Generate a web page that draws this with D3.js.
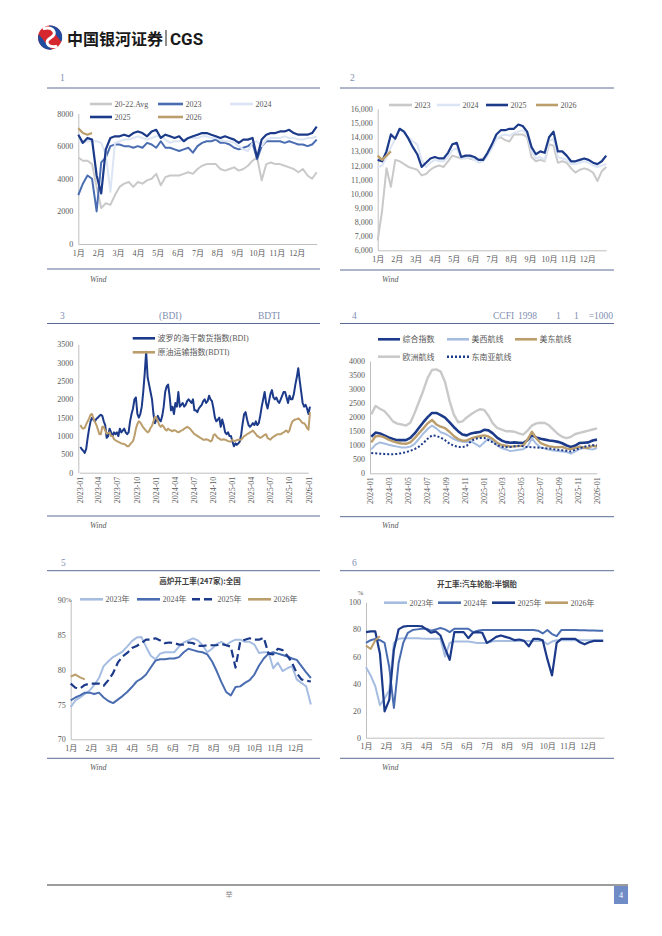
<!DOCTYPE html>
<html>
<head>
<meta charset="utf-8">
<title>CGS</title>
<script src="https://cdn.jsdelivr.net/npm/d3@7/dist/d3.min.js"></script>
<style>
  body { margin: 0; background: #fff; }
</style>
</head>
<body>
<script>
// ---------------- data ----------------
var monthLabels = ["1月","2月","3月","4月","5月","6月","7月","8月","9月","10月","11月","12月"];

// chart 1 (weekly, one year)
var c1YTicks = [0, 2000, 4000, 6000, 8000];
var c1Avg = [5300,5100,5100,4900,3500,2200,2500,2400,3000,3500,3700,3800,3500,3800,3700,3900,4000,4300,3600,4100,4200,4200,4200,4300,4400,4300,4600,4800,4900,4900,4900,4600,4500,4600,4700,4500,4600,4800,5100,5300,3900,4900,5000,4900,4900,4800,4700,4600,4400,4600,4200,4000,4400];
var c1Y2023 = [3000,3700,4200,4000,2000,5000,5300,6000,6100,6100,6000,6000,5900,6000,5900,6200,6100,5900,6300,5900,5900,5800,5700,5800,5900,5600,6000,6200,6300,6300,6400,6200,6200,6100,5900,5800,5900,6000,6200,5200,6000,6300,6300,6300,6300,6200,6300,6200,6100,6100,6000,6100,6400];
var c1Y2024 = [6300,6200,6300,6300,6300,6200,5500,3200,6200,6300,6400,6400,6500,6600,6500,6400,6500,6600,6600,6400,6200,6300,6300,6400,6500,6500,6500,6600,6600,6500,6500,6400,6300,6300,6200,6000,5800,5700,6200,6300,6000,6400,6500,6500,6500,6600,6500,6500,6400,6400,6500,6500,6600];
var c1Y2025 = [6700,6200,6500,6400,4200,3100,5800,6500,6600,6600,6700,6600,6800,6900,6800,6600,6900,7000,6500,6700,6600,6500,6600,6300,6500,6600,6700,6800,6800,6700,6600,6500,6600,6500,6400,6200,6400,6400,6500,5300,6400,6700,6800,6800,6900,6900,7000,6800,6700,6700,6700,6800,7200];
var c1Y2026 = [7100,6800,6700,6800];

// chart 2
var c2YTicks = [6000,7000,8000,9000,10000,11000,12000,13000,14000,15000,16000];
var c2Y2023 = [6700,8800,11800,10500,12400,12300,12100,11900,11800,11700,11300,11400,11700,11900,12000,11900,12300,12700,12600,12500,12600,12500,12400,12400,12500,12800,13400,13900,14000,13800,13700,14200,14200,14200,14000,12600,12300,12400,12300,13500,13400,12200,12300,12200,11800,11500,11700,11800,11700,11500,10900,11600,11900];
var c2Y2024 = [11900,12000,12600,13300,13900,14600,14300,14000,13700,13500,12400,11900,12200,12400,12300,12300,12600,13100,13200,12500,12500,12600,12400,12200,12300,12700,13200,13900,14100,14200,14100,14300,14400,14500,14200,13000,12500,12600,12400,13700,13900,12600,12500,12400,12100,12100,12200,12300,12200,12000,11900,12000,12100];
var c2Y2025 = [12400,12300,13000,14200,13900,14600,14400,13900,13300,12800,11900,12200,12500,12600,12500,12500,12900,13500,13600,12600,12700,12700,12600,12400,12400,12900,13500,14200,14500,14500,14600,14600,14900,14800,14400,13300,12800,13000,12900,14000,14400,13000,13000,12700,12300,12300,12400,12500,12400,12200,12100,12300,12700];
var c2Y2026 = [12700,12400,12700,13000];

// chart 3 (weekly from 2023-01-06)
var c3Start = "2023-01-06";
var c3XTicks = ["2023-01","2023-04","2023-07","2023-10","2024-01","2024-04","2024-07","2024-10","2025-01","2025-04","2025-07","2025-10","2026-01"];
var c3YTicks = [0,500,1000,1500,2000,2500,3000,3500];
var c3BDI = [700,640,600,540,650,950,1200,1400,1500,1450,1400,1470,1500,1550,1580,1550,1400,1300,950,1000,1200,1100,1000,1100,1050,1100,1000,1200,1100,1150,1200,1100,1050,1100,1400,1600,1750,2000,2050,1600,1500,1600,1800,2200,2700,3300,2600,2400,2200,2000,1600,1350,1450,1550,1450,1400,1550,1800,2200,2350,2400,2100,1700,1800,1600,1900,1800,2200,1800,1850,1900,1800,1850,1950,2000,1950,1900,2000,1700,1700,1650,1750,1800,1850,1950,2000,1900,1950,2100,2000,1950,1750,1500,1400,1450,1500,1250,1450,1300,1100,1050,1100,1000,1000,850,720,800,760,800,850,1050,1350,1600,1650,1450,1300,1250,1300,1350,1300,1400,1300,1350,1550,1800,2000,2200,1900,1750,1950,2150,2250,2050,2000,2050,1950,1900,2000,2100,2200,2200,2050,1900,2100,2000,2000,2150,2400,2600,2850,2500,2200,1900,1800,1850,1750,1600,1800];
var c3BDTI = [1300,1230,1200,1220,1320,1400,1480,1580,1600,1480,1380,1300,1180,1050,1050,1250,1250,1150,1070,1080,1100,1000,1000,920,880,860,840,820,800,790,780,760,720,720,770,820,860,1000,1200,1330,1400,1370,1300,1230,1190,1140,1100,1130,1220,1280,1400,1520,1500,1400,1300,1250,1300,1250,1180,1150,1200,1170,1150,1130,1160,1150,1120,1100,1120,1150,1160,1200,1220,1250,1230,1200,1150,1100,1050,1030,1000,980,950,930,900,900,910,900,880,850,880,1020,1050,1000,950,930,900,900,910,900,880,860,850,850,900,860,870,890,900,900,900,950,1000,1020,1050,1070,1100,1120,1150,1100,1050,1000,980,950,970,1000,1030,1050,950,920,900,950,980,1000,1030,1050,1050,1050,1080,1100,1130,1150,1100,1150,1300,1400,1430,1450,1460,1480,1450,1400,1350,1350,1300,1220,1170,1650];

// chart 4 (every two weeks from 2024-01-05)
var c4Start = "2024-01-05";
var c4XTicks = ["2024-01","2024-03","2024-05","2024-07","2024-09","2024-11","2025-01","2025-03","2025-05","2025-07","2025-09","2025-11","2026-01"];
var c4YTicks = [0,500,1000,1500,2000,2500,3000,3500,4000];
var c4Comp = [1300,1450,1420,1350,1280,1220,1180,1180,1180,1260,1420,1620,1820,2000,2150,2150,2070,1980,1820,1650,1500,1380,1350,1420,1450,1470,1550,1530,1420,1270,1170,1110,1090,1100,1090,1080,1180,1350,1280,1230,1200,1170,1150,1120,1070,990,940,990,1080,1090,1100,1170,1200];
var c4USW = [850,1020,1100,1060,1020,980,950,920,920,950,1050,1230,1420,1580,1700,1600,1460,1410,1320,1220,1160,1120,1110,1140,1050,950,1100,1240,1150,990,900,850,790,810,840,860,950,1250,1050,920,880,840,810,790,780,760,700,780,860,900,870,850,900];
var c4USE = [1100,1320,1330,1280,1200,1140,1090,1060,1050,1100,1250,1430,1600,1780,1900,1740,1660,1610,1480,1330,1220,1160,1170,1240,1290,1320,1350,1310,1220,1090,1010,980,950,960,970,990,1200,1480,1250,1080,1010,960,940,930,940,880,860,900,950,920,900,980,950];
var c4EU = [2100,2400,2300,2220,2050,1850,1770,1740,1700,1800,2150,2550,2950,3400,3680,3700,3620,3250,2600,2100,1820,1850,1990,2100,2200,2280,2260,2050,1780,1620,1560,1500,1500,1480,1420,1380,1520,1700,1780,1800,1790,1700,1550,1400,1300,1250,1300,1400,1440,1480,1520,1560,1600];
var c4SEA = [720,710,700,690,680,680,690,720,750,800,860,950,1080,1230,1350,1330,1270,1180,1060,980,940,930,980,1150,1230,1260,1260,1180,1100,1000,950,930,940,960,980,960,940,930,920,910,890,880,860,840,820,800,780,840,890,940,980,1000,1000];

// chart 5
var c5YTicks = [70, 75, 80, 85, 90];
var c5Y2023 = [74.6,75.6,76,76.5,77,77.8,78.8,80.5,81.2,81.8,82.2,82.6,83.3,84.1,84.6,84.7,83.3,82,81.5,82.3,82.5,82.5,82.5,83.3,83.9,84.2,84.5,84.2,83.5,82.5,83,83.7,84,83.5,84,84.3,84.3,84,84,83.6,82.4,82.5,82.5,80.2,81,79.8,80.2,80.5,78.6,78.1,77.6,75];
var c5Y2024 = [75.6,76,76.3,76.7,76.7,76.5,76.7,76,75.5,75.2,75.7,76.2,76.8,77.5,78.3,78.7,79.3,80.3,81.3,81.5,81.5,81.6,81.6,81.8,82.5,83,82.8,82.6,82.5,82.2,81.2,79.8,78.2,76.8,76.3,77.5,77.6,78.1,78.5,79.3,80.6,81.6,82.3,82.5,82.3,82.1,81.9,81.6,81.4,80.5,79.6,78.8];
var c5Y2025 = [78,77.4,77.3,77.8,78,78,78,77.7,78.5,79.5,81,81.9,82.4,83.1,83.4,83.8,84.3,84.3,84.5,84.2,83.8,83.9,83.8,83.6,83.6,83.9,83.8,83.4,83.4,83.5,83.5,83.5,83.7,83.5,83.3,80.3,84,84.3,84.5,84.3,84.3,84.6,82.3,82.2,83,82.8,82,81,79.5,78.6,78.4,78.3];
var c5Y2026 = [79,79.3,78.9,78.6];

// chart 6
var c6YTicks = [0, 20, 40, 60, 80, 100];
var c6Y2023 = [52,46,38,24,29,35,70,73,73.5,73.5,73.5,73.5,73.2,73,73,73,73,60,70,71,71,71,71,70.5,70,70,70,71,71.5,71.5,71.5,71.5,71.5,71.5,71.5,71.5,71.5,71.5,71.5,69,71,72,72,72,72,72,72,72,72,72,72,72];
var c6Y2024 = [70,72,73,72,70,52,22,55,70,77.5,79.5,80,80.5,80.5,79,80,81,80,78,80.5,80.5,80.5,80.5,78,79,79.5,79.5,79.5,79.5,79.5,79.5,79.5,79.5,79.5,79.5,79.5,79.5,79,77,79.5,76.5,75,79.5,79.5,79.5,79.5,79.3,79.3,79.2,79.2,79,79];
var c6Y2025 = [78,78.5,78.5,62,19.5,28,65,80,82,82.5,82.5,82.5,82.3,80,77.5,78.5,75.5,66,57.5,78,78,78,73.5,77.5,78,77.5,70,72,74.5,75.5,74.5,73.5,72,72.5,71.5,67.5,73,73,72,58,46,70,73,73,73,73,70.5,69,70.5,71.5,71.5,71.5];
var c6Y2026 = [68,65.5,72,75];

// ---------------- style ----------------
var NAVY = "#1c3a8a", MID = "#4a6db1", LIGHT = "#a6bde2", PALE = "#dce5f4", GRAY = "#c9c9c9", TAN = "#bb9e6c";
var INK = "#595959", RULE = "#5b6c95", AXIS = "#bfbfbf", TITLE = "#7f8fb2";
var SERIF = "'Liberation Serif','Noto Sans CJK SC',serif";
var CJK = "'Noto Sans CJK SC','Liberation Serif',sans-serif";

var svg = d3.select("body").append("svg").attr("width", 662).attr("height", 936);

function addText(x, y, s, opt) {
    opt = opt || {};
    return svg.append("text")
        .attr("x", x).attr("y", y)
        .attr("fill", opt.fill || INK)
        .attr("text-anchor", opt.anchor || "start")
        .attr("dy", opt.dy || null)
        .style("font-size", (opt.size || 8) + "px")
        .style("font-family", opt.font || SERIF)
        .style("font-weight", opt.weight || null)
        .style("font-style", opt.italic ? "italic" : null)
        .text(s);
}

function rule(x1, x2, y, color) {
    svg.append("line")
        .attr("x1", x1).attr("x2", x2).attr("y1", y).attr("y2", y)
        .attr("stroke", color || RULE).attr("stroke-width", 1);
}

function legend(x1, x2, y, color, label, dash) {
    svg.append("line")
        .attr("x1", x1).attr("x2", x2).attr("y1", y).attr("y2", y)
        .attr("stroke", color).attr("stroke-width", 2.6)
        .attr("stroke-dasharray", dash || null);
    addText(x2 + 2.5, y, label, {dy: "0.35em"});
}

function weekly(vals) {
    return vals.map(function(v, i) { return {x: i * 12 / 52, v: v}; });
}

function dated(vals, start, stepDays) {
    var t0 = d3.timeParse("%Y-%m-%d")(start);
    return vals.map(function(v, i) { return {x: d3.timeDay.offset(t0, i * stepDays), v: v}; });
}

function drawSeries(x, y, pts, color, width, dash) {
    var line = d3.line()
        .x(function(d) { return x(d.x); })
        .y(function(d) { return y(d.v); });
    svg.append("path")
        .datum(pts)
        .attr("d", line)
        .attr("fill", "none")
        .attr("stroke", color)
        .attr("stroke-width", width || 2)
        .attr("stroke-linejoin", "round")
        .attr("stroke-dasharray", dash || null);
}

function styleAxis(g) {
    g.select(".domain").attr("stroke", AXIS);
    g.selectAll("text").attr("fill", INK)
        .style("font-size", "8px").style("font-family", SERIF);
}

function yAxis(x0, y, ticks, fmt) {
    var g = svg.append("g")
        .attr("transform", "translate(" + x0 + ",0)")
        .call(d3.axisLeft(y).tickValues(ticks).tickFormat(fmt).tickSize(0).tickPadding(5));
    styleAxis(g);
}

function monthAxis(y0, x) {
    var g = svg.append("g")
        .attr("transform", "translate(0," + y0 + ")")
        .call(d3.axisBottom(x).tickValues(d3.range(12))
            .tickFormat(function(m) { return monthLabels[m]; })
            .tickSize(0).tickPadding(6));
    styleAxis(g);
}

function dateAxis(y0, x, ticks) {
    var parse = d3.timeParse("%Y-%m");
    var g = svg.append("g")
        .attr("transform", "translate(0," + y0 + ")")
        .call(d3.axisBottom(x).tickValues(ticks.map(parse))
            .tickFormat(d3.timeFormat("%Y-%m")).tickSize(0));
    styleAxis(g);
    g.selectAll(".tick text")
        .attr("transform", "rotate(-90)")
        .attr("text-anchor", "end")
        .attr("x", -4).attr("y", 0).attr("dy", "0.35em");
}

// ---------------- header ----------------
var logo = svg.append("g").attr("transform", "translate(50,37.5)");
logo.append("circle").attr("r", 12).attr("fill", "#d6262e");
logo.append("path")
    .attr("d", "M-1,-12 A12,12 0 0,1 11.5,4 C7,0 5,-5 -1,-12 Z")
    .attr("fill", "#1f4c9e");
logo.append("path")
    .attr("d", "M2,12 A12,12 0 0,1 -11.5,-3 C-7,1 -4,7 2,12 Z")
    .attr("fill", "#1f4c9e");
logo.append("path")
    .attr("d", "M-6,-9 C3,-11 8,-4 1,0 C-6,4 -3,10 6,9")
    .attr("fill", "none").attr("stroke", "#fff").attr("stroke-width", 3).attr("stroke-linecap", "round");

addText(67, 45, "中国银河证券", {size: 16, weight: "bold", fill: "#1a1a1a", font: CJK});
svg.append("line").attr("x1", 166).attr("x2", 166).attr("y1", 30).attr("y2", 46)
    .attr("stroke", "#444").attr("stroke-width", 1.2);
addText(170, 45, "CGS", {size: 17, weight: "bold", fill: "#1a1a1a", font: "Roboto, 'Liberation Sans', sans-serif"});

// ---------------- panel 1 ----------------
addText(60, 81, "1", {size: 9.5, fill: TITLE});
rule(47, 320, 88);
var x1 = d3.scaleLinear().domain([0, 12]).range([78.3, 316.7]);
var y1 = d3.scaleLinear().domain([0, 8000]).range([244, 113.5]);
yAxis(78.3, y1, c1YTicks, d3.format("d"));
monthAxis(244, x1);
drawSeries(x1, y1, weekly(c1Avg), GRAY, 2);
drawSeries(x1, y1, weekly(c1Y2023), MID, 2);
drawSeries(x1, y1, weekly(c1Y2024), PALE, 2);
drawSeries(x1, y1, weekly(c1Y2025), NAVY, 2.2);
drawSeries(x1, y1, weekly(c1Y2026), TAN, 2.2);
legend(90, 112, 104, GRAY, "20-22.Avg");
legend(158, 183, 104, MID, "2023");
legend(230, 253, 104, PALE, "2024");
legend(90, 112, 117, NAVY, "2025");
legend(158, 183, 117, TAN, "2026");
rule(47, 320, 269);
addText(90, 282, "Wind", {italic: true});

// ---------------- panel 2 ----------------
addText(350, 81, "2", {size: 9.5, fill: TITLE});
rule(340, 614, 88);
var x2 = d3.scaleLinear().domain([0, 12]).range([377.7, 606.2]);
var y2 = d3.scaleLinear().domain([6000, 16000]).range([250.3, 109]);
yAxis(377.7, y2, c2YTicks, d3.format(","));
monthAxis(250.3, x2);
drawSeries(x2, y2, weekly(c2Y2023), GRAY, 2);
drawSeries(x2, y2, weekly(c2Y2024), PALE, 2);
drawSeries(x2, y2, weekly(c2Y2025), NAVY, 2.2);
drawSeries(x2, y2, weekly(c2Y2026), TAN, 2.2);
legend(389, 412, 105, GRAY, "2023");
legend(437, 460, 105, PALE, "2024");
legend(486, 508, 105, NAVY, "2025");
legend(536, 558, 105, TAN, "2026");
rule(340, 614, 270);
addText(382, 282, "Wind", {italic: true});

// ---------------- panel 3 ----------------
addText(60, 319, "3", {size: 9.5, fill: TITLE});
addText(159, 319, "(BDI)", {size: 9.5, fill: TITLE});
addText(258, 319, "BDTI", {size: 9.5, fill: TITLE});
rule(47, 320, 323.5);
var parseMonth = d3.timeParse("%Y-%m");
var x3 = d3.scaleTime().domain([parseMonth("2023-01"), parseMonth("2026-01")]).range([79.3, 308.3]);
var y3 = d3.scaleLinear().domain([0, 3500]).range([472.7, 344.3]);
yAxis(78.3, y3, c3YTicks, d3.format("d"));
dateAxis(472.7, x3, c3XTicks);
drawSeries(x3, y3, dated(c3BDI, c3Start, 7), NAVY, 2);
drawSeries(x3, y3, dated(c3BDTI, c3Start, 7), TAN, 2);
legend(132.7, 155, 338.3, NAVY, "波罗的海干散货指数(BDI)");
legend(132.7, 155, 352.3, TAN, "原油运输指数(BDTI)");
rule(47, 320, 516);
addText(90, 528, "Wind", {italic: true});

// ---------------- panel 4 ----------------
addText(352, 319, "4", {size: 9.5, fill: TITLE});
addText(493, 319, "CCFI", {size: 9.5, fill: TITLE});
addText(518, 319, "1998", {size: 9.5, fill: TITLE});
addText(556, 319, "1", {size: 9.5, fill: TITLE});
addText(574, 319, "1", {size: 9.5, fill: TITLE});
addText(613, 319, "=1000", {size: 9.5, fill: TITLE, anchor: "end"});
rule(340, 614, 323.5);
var x4 = d3.scaleTime().domain([parseMonth("2024-01"), parseMonth("2026-01")]).range([370, 596.7]);
var y4 = d3.scaleLinear().domain([0, 4000]).range([473.3, 361]);
yAxis(370, y4, c4YTicks, d3.format("d"));
dateAxis(473.3, x4, c4XTicks);
drawSeries(x4, y4, dated(c4Comp, c4Start, 14), NAVY, 2.6);
drawSeries(x4, y4, dated(c4USW, c4Start, 14), LIGHT, 2);
drawSeries(x4, y4, dated(c4USE, c4Start, 14), TAN, 2.4);
drawSeries(x4, y4, dated(c4EU, c4Start, 14), GRAY, 2.4);
drawSeries(x4, y4, dated(c4SEA, c4Start, 14), NAVY, 2, "2,2");
legend(378, 400, 339.3, NAVY, "综合指数");
legend(447, 469, 339.3, LIGHT, "美西航线");
legend(515, 537, 339.3, TAN, "美东航线");
legend(378, 400, 356.7, GRAY, "欧洲航线");
legend(447, 469, 356.7, NAVY, "东南亚航线", "2,2");
rule(340, 614, 516.7);
addText(382, 528, "Wind", {italic: true});

// ---------------- panel 5 ----------------
addText(61, 566, "5", {size: 9.5, fill: TITLE});
rule(47, 320, 570.7);
addText(200, 584, "高炉开工率(247家):全国", {anchor: "middle", weight: "bold", font: CJK, fill: "#404040", size: 7.5});
var x5 = d3.scaleLinear().domain([0, 11.81]).range([70.7, 311.7]);
var y5 = d3.scaleLinear().domain([70, 90]).range([739.3, 600]);
yAxis(70.7, y5, c5YTicks, d3.format("d"));
addText(65.8, 600, "%", {dy: "0.35em", size: 7});
monthAxis(739.3, x5);
drawSeries(x5, y5, weekly(c5Y2023), LIGHT, 2);
drawSeries(x5, y5, weekly(c5Y2024), MID, 2);
drawSeries(x5, y5, weekly(c5Y2025), NAVY, 2.2, "8,4");
drawSeries(x5, y5, weekly(c5Y2026), TAN, 2);
legend(80, 103, 599.3, LIGHT, "2023年");
legend(137, 160, 599.3, MID, "2024年");
legend(192, 215, 599.3, NAVY, "2025年", "8,4");
legend(248, 271, 599.3, TAN, "2026年");
rule(47, 320, 758.3);
addText(90, 770, "Wind", {italic: true});

// ---------------- panel 6 ----------------
addText(352, 566, "6", {size: 9.5, fill: TITLE});
rule(340, 614, 570.7);
addText(477, 587, "开工率:汽车轮胎:半钢胎", {anchor: "middle", weight: "bold", font: CJK, fill: "#404040", size: 7.5});
var x6 = d3.scaleLinear().domain([0, 11.81]).range([366, 604]);
var y6 = d3.scaleLinear().domain([0, 100]).range([737.7, 602.3]);
yAxis(366, y6, c6YTicks, d3.format("d"));
addText(360.5, 595, "%", {size: 7, anchor: "middle"});
monthAxis(737.7, x6);
drawSeries(x6, y6, weekly(c6Y2023), LIGHT, 2);
drawSeries(x6, y6, weekly(c6Y2024), MID, 2);
drawSeries(x6, y6, weekly(c6Y2025), NAVY, 2.2);
drawSeries(x6, y6, weekly(c6Y2026), TAN, 2);
legend(384, 407, 602.7, LIGHT, "2023年");
legend(438, 461, 602.7, MID, "2024年");
legend(492, 515, 602.7, NAVY, "2025年");
legend(545, 568, 602.7, TAN, "2026年");
rule(340, 614, 758.3);
addText(382, 770, "Wind", {italic: true});

// ---------------- footer ----------------
rule(47, 628, 885, "#3a3a3a");
addText(229, 897, "举", {size: 7, fill: "#888", font: CJK, anchor: "middle"});
svg.append("rect").attr("x", 614).attr("y", 886).attr("width", 14).attr("height", 18).attr("fill", "#6f8cc6");
addText(621, 898, "4", {size: 8, fill: "#fff", anchor: "middle"});
</script>
</body>
</html>
